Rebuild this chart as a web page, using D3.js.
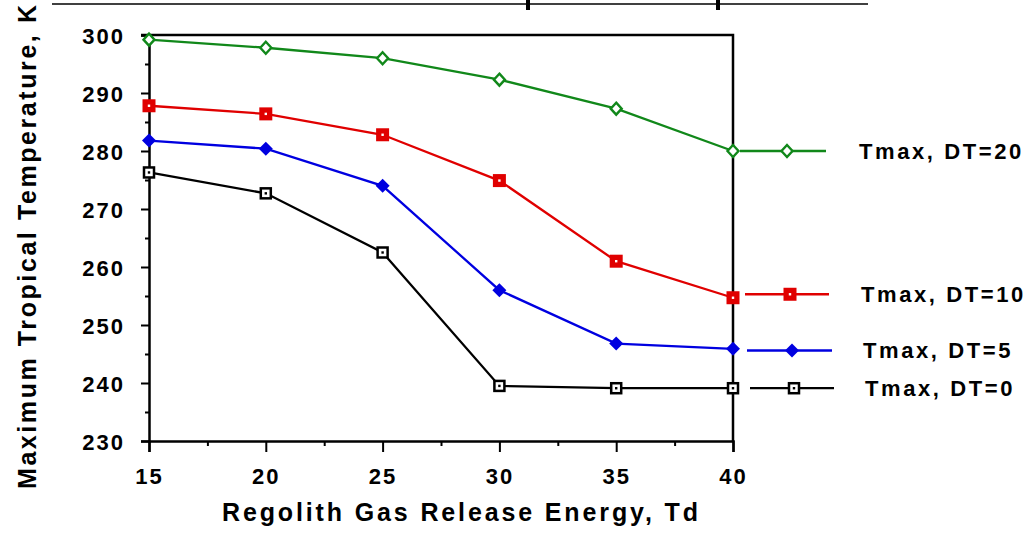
<!DOCTYPE html>
<html>
<head>
<meta charset="utf-8">
<script src="https://cdn.jsdelivr.net/npm/d3@7"></script>
<style>
  body { margin: 0; background: #fff; }
  text { font-family: "Liberation Sans", Arial, sans-serif; font-weight: bold; fill: #000; }
</style>
</head>
<body>
<div id="chart"></div>
<script>
// Data
const energies = [15, 20, 25, 30, 35, 40];
const tmaxDT20 = [299.2, 297.8, 296.0, 292.3, 287.3, 280.0];
const tmaxDT10 = [287.8, 286.4, 282.8, 274.9, 261.0, 254.7];
const tmaxDT5  = [281.8, 280.4, 274.0, 256.0, 246.8, 245.9];
const tmaxDT0  = [276.3, 272.7, 262.5, 239.5, 239.1, 239.1];
const seriesNames = ["Tmax, DT=20", "Tmax, DT=10", "Tmax, DT=5", "Tmax, DT=0"];
const xTicks = [15, 20, 25, 30, 35, 40];
const yTicks = [230, 240, 250, 260, 270, 280, 290, 300];

const width = 1032, height = 533;
const margin = { left: 149, right: 299, top: 35, bottom: 92 };

const svg = d3.select("#chart").append("svg")
    .attr("width", width)
    .attr("height", height);

const x = d3.scaleLinear().domain([15, 40]).range([margin.left, width - margin.right]);
const y = d3.scaleLinear().domain([230, 300]).range([height - margin.bottom, margin.top]);

// Cut-off title remains at the top
svg.append("line")
    .attr("x1", 52).attr("x2", 868).attr("y1", 4).attr("y2", 4)
    .attr("stroke", "#000").attr("stroke-width", 1.5);
svg.append("rect").attr("x", 526).attr("y", 0).attr("width", 4).attr("height", 10).attr("fill", "#000");
svg.append("rect").attr("x", 716).attr("y", 0).attr("width", 4).attr("height", 10).attr("fill", "#000");

// Frame top and right
svg.append("path")
    .attr("d", `M${x(15) - 8},${y(300)}H${x(40)}V${y(230)}`)
    .attr("fill", "none").attr("stroke", "#000").attr("stroke-width", 2.5);

// Y axis
const yAxis = svg.append("g")
    .attr("transform", `translate(${x(15)},0)`)
    .call(d3.axisLeft(y).tickValues(yTicks).tickSize(8).tickPadding(16).tickFormat(d3.format("d")));
yAxis.selectAll(".tick line").attr("stroke-width", 2);
yAxis.select(".domain").attr("stroke-width", 2.5);
yAxis.selectAll("text").style("font-size", "22px").style("letter-spacing", "2px").attr("dy", "0.38em");
svg.append("g")
    .attr("transform", `translate(${x(15)},0)`)
    .call(d3.axisLeft(y).tickValues(d3.range(235, 300, 10)).tickSize(4).tickFormat(""))
    .call(g => g.select(".domain").remove())
    .selectAll("line").attr("stroke-width", 2);

// X axis
const xAxis = svg.append("g")
    .attr("transform", `translate(0,${y(230)})`)
    .call(d3.axisBottom(x).tickValues(xTicks).tickSize(11).tickPadding(16));
xAxis.selectAll(".tick line").attr("stroke-width", 2);
xAxis.select(".domain").attr("stroke-width", 2.5);
xAxis.selectAll("text").style("font-size", "22px").style("letter-spacing", "2px").attr("dy", "0.71em");
svg.append("g")
    .attr("transform", `translate(0,${y(230)})`)
    .call(d3.axisBottom(x).tickValues(d3.range(17.5, 40, 5)).tickSize(5).tickFormat(""))
    .call(g => g.select(".domain").remove())
    .selectAll("line").attr("stroke-width", 2);

// Axis titles
svg.append("text")
    .attr("x", 222).attr("y", 521)
    .attr("textLength", 476).attr("lengthAdjust", "spacing")
    .style("font-size", "25px")
    .text("Regolith Gas Release Energy, Td");
svg.append("text")
    .attr("transform", "translate(36,489) rotate(-90)")
    .attr("textLength", 484).attr("lengthAdjust", "spacing")
    .style("font-size", "25px")
    .text("Maximum Tropical Temperature, K");

// Series
const series = [
  { name: seriesNames[0], values: tmaxDT20, color: "#11881a", marker: "diamondOpen", legendY: 280, lx1: 740, lx2: 826, mx: 787, tx: 859 },
  { name: seriesNames[1], values: tmaxDT10, color: "#e00000", marker: "squareFilled", legendY: 255.3, lx1: 745, lx2: 829, mx: 790, tx: 861 },
  { name: seriesNames[2], values: tmaxDT5,  color: "#0000e0", marker: "diamondFilled", legendY: 245.6, lx1: 747, lx2: 832, mx: 792, tx: 863 },
  { name: seriesNames[3], values: tmaxDT0,  color: "#000000", marker: "squareOpen", legendY: 239.1, lx1: 750, lx2: 834, mx: 794, tx: 865 }
];

const line = d3.line().x((d, i) => x(energies[i])).y(d => y(d));

function drawMarker(g, type, cx, cy, color) {
  if (type === "diamondOpen") {
    g.append("path").attr("d", `M${cx},${cy - 6}L${cx + 5.5},${cy}L${cx},${cy + 6}L${cx - 5.5},${cy}Z`)
      .attr("fill", "#fff").attr("stroke", color).attr("stroke-width", 2.4);
  } else if (type === "diamondFilled") {
    g.append("path").attr("d", `M${cx},${cy - 7}L${cx + 7},${cy}L${cx},${cy + 7}L${cx - 7},${cy}Z`)
      .attr("fill", color);
  } else if (type === "squareFilled") {
    g.append("rect").attr("x", cx - 6.5).attr("y", cy - 6.5).attr("width", 13).attr("height", 13).attr("fill", color);
    g.append("rect").attr("x", cx - 1.2).attr("y", cy - 1.2).attr("width", 2.4).attr("height", 2.4).attr("fill", "#fff");
  } else {
    g.append("rect").attr("x", cx - 5).attr("y", cy - 5).attr("width", 10).attr("height", 10)
      .attr("fill", "#fff").attr("stroke", color).attr("stroke-width", 2.5);
    g.append("rect").attr("x", cx - 1.2).attr("y", cy - 1.2).attr("width", 2.4).attr("height", 2.4).attr("fill", color);
  }
}

series.forEach(s => {
  const g = svg.append("g");
  g.append("path")
    .datum(s.values)
    .attr("d", line)
    .attr("fill", "none")
    .attr("stroke", s.color)
    .attr("stroke-width", 2.3);
  s.values.forEach((v, i) => drawMarker(g, s.marker, x(energies[i]), y(v), s.color));

  // Legend entry
  const ly = y(s.legendY);
  g.append("line")
    .attr("x1", s.lx1).attr("x2", s.lx2).attr("y1", ly).attr("y2", ly)
    .attr("stroke", s.color).attr("stroke-width", 2.3);
  drawMarker(g, s.marker, s.mx, ly, s.color);
  g.append("text")
    .attr("x", s.tx).attr("y", ly)
    .attr("dy", "0.36em")
    .style("font-size", "22px")
    .style("letter-spacing", "2.6px")
    .text(s.name);
});
</script>
</body>
</html>
